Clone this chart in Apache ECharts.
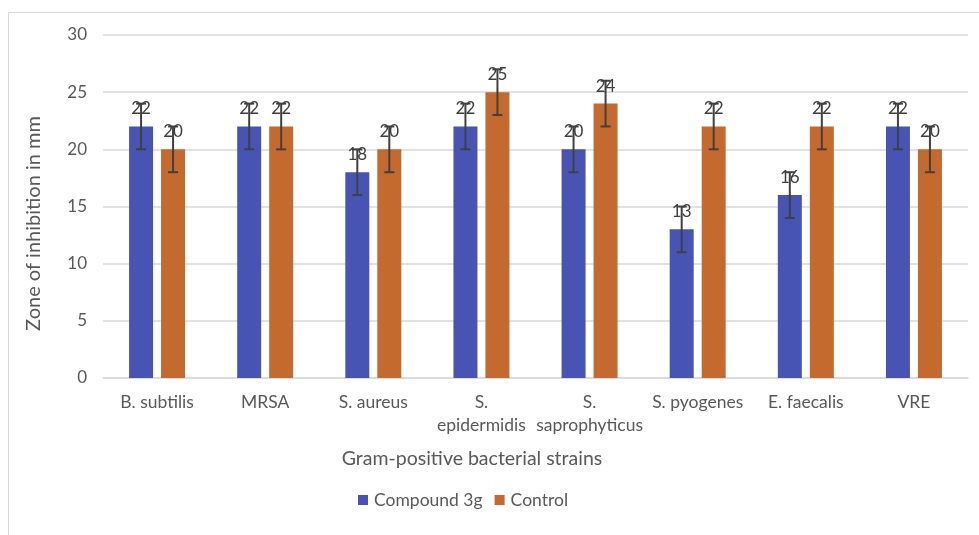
<!DOCTYPE html>
<html><head><meta charset="utf-8">
<script src="https://cdn.jsdelivr.net/npm/echarts@6/dist/echarts.min.js"></script>
<style>html,body{margin:0;padding:0;background:#fff}#c{width:979px;height:535px}</style>
</head><body><div id="c"></div>
<script>
const categories = ['B. subtilis','MRSA','S. aureus','S.\nepidermidis','S.\nsaprophyticus','S. pyogenes','E. faecalis','VRE'];
const compound3g = [22,22,18,22,20,13,16,22];
const control = [20,22,20,25,24,22,22,20];
const errCompound = [2,2,2,2,2,2,2,2];
const errControl = [2,2,2,2,2,2,2,2];
const yTicks = {min:0,max:30,interval:5};

const FONT = 'Lato';
const BLUE = '#4854B4', ORANGE = '#C46A2F';
const chart = echarts.init(document.getElementById('c'));

function errSeries(vals, errs, offset){
  return {
    type:'custom', z:5, silent:true,
    data: vals.map((v,i)=>[i, v-errs[i], v+errs[i]]),
    encode:{x:0,y:[1,2]},
    renderItem:function(params, api){
      const lo = api.coord([api.value(0), api.value(1)]);
      const hi = api.coord([api.value(0), api.value(2)]);
      const x = lo[0] + offset, cap = 5;
      const st = {stroke:'#404040', lineWidth:2};
      return {type:'group', children:[
        {type:'line', shape:{x1:x,y1:lo[1],x2:x,y2:hi[1]}, style:st},
        {type:'line', shape:{x1:x-cap,y1:lo[1],x2:x+cap,y2:lo[1]}, style:st},
        {type:'line', shape:{x1:x-cap,y1:hi[1],x2:x+cap,y2:hi[1]}, style:st}
      ]};
    }
  };
}

const labelCfg = {show:true, position:'top', distance:9, color:'#404040', fontSize:17, fontFamily:FONT};

chart.setOption({
  animation:false,
  textStyle:{fontFamily:FONT},
  graphic:[{type:'rect', shape:{x:8.5,y:12.5,width:1000,height:600}, style:{fill:'none', stroke:'#d9d9d9', lineWidth:1}}],
  grid:{left:103, right:11, top:35, bottom:157},
  legend:{
    data:['Compound 3g','Control'], bottom:21, left:353,
    itemWidth:10, itemHeight:10, itemGap:12, icon:'rect',
    textStyle:{color:'#595959', fontSize:17.5, fontFamily:FONT, padding:[0,0,0,1]}
  },
  xAxis:{
    type:'category', data:categories,
    name:'Gram-positive bacterial strains', nameLocation:'middle', nameGap:71,
    nameTextStyle:{color:'#595959', fontSize:19.5, fontFamily:FONT, padding:[0,127,0,0]},
    axisLine:{lineStyle:{color:'#d9d9d9', width:1.5}},
    axisTick:{show:false},
    axisLabel:{color:'#595959', fontSize:17.5, fontFamily:FONT, margin:13, lineHeight:23, interval:0}
  },
  yAxis:{
    type:'value', min:yTicks.min, max:yTicks.max, interval:yTicks.interval,
    name:'Zone of inhibition in mm', nameLocation:'middle', nameGap:59, nameRotate:90,
    nameTextStyle:{color:'#595959', fontSize:20, fontFamily:FONT, padding:[0,34,0,0]},
    axisLine:{show:false}, axisTick:{show:false},
    axisLabel:{color:'#595959', fontSize:17, fontFamily:FONT, margin:16},
    splitLine:{lineStyle:{color:'#d9d9d9', width:1.5}}
  },
  series:[
    {name:'Compound 3g', type:'bar', data:compound3g, barWidth:24, barGap:'33.3%', itemStyle:{color:BLUE}, label:labelCfg},
    {name:'Control', type:'bar', data:control, barWidth:24, barGap:'33.3%', itemStyle:{color:ORANGE}, label:labelCfg},
    errSeries(compound3g, errCompound, -16),
    errSeries(control, errControl, 16)
  ]
});
</script></body></html>
